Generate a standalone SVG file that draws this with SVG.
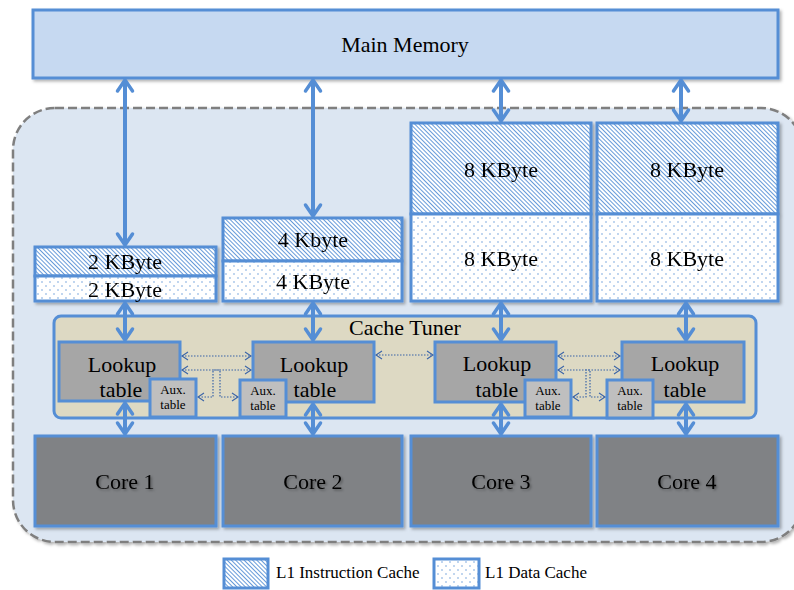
<svg xmlns="http://www.w3.org/2000/svg" width="794" height="590" viewBox="0 0 794 590">
<style>
text{font-family:"Liberation Serif","Times New Roman",serif;fill:#000;text-anchor:middle}
.lbl{font-size:22px}
.aux{font-size:13px}
.leg{font-size:17px;text-anchor:start}
.box{stroke:#558ed5;stroke-width:3}
.ins{fill:url(#hatch)}
.dat{fill:url(#dots)}
.lt{fill:#a6a6a6}
.ax{fill:#bfbfbf}
.core{fill:#808285}
.big{stroke:#558ed5;stroke-width:4;fill:none;marker-start:url(#ah);marker-end:url(#ah)}
.dot{stroke:#3a64a8;stroke-width:1.2;stroke-dasharray:1.5 1.5;fill:none;marker-start:url(#sh2);marker-end:url(#sh2)}
</style>
<defs>
<filter id="sh" x="-10%" y="-10%" width="120%" height="130%">
<feDropShadow dx="2" dy="2" stdDeviation="1.5" flood-color="#000" flood-opacity="0.3"/>
</filter>
<filter id="tsh" x="-10%" y="-20%" width="130%" height="150%">
<feDropShadow dx="1.5" dy="1.5" stdDeviation="1" flood-color="#000" flood-opacity="0.35"/>
</filter>
<pattern id="hatch" patternUnits="userSpaceOnUse" width="10" height="3" patternTransform="rotate(45)">
<rect width="10" height="3" fill="#fff"/>
<line x1="0" y1="1.5" x2="10" y2="1.5" stroke="#558ed5" stroke-width="0.9"/>
</pattern>
<pattern id="dots" patternUnits="userSpaceOnUse" width="8" height="8">
<rect width="8" height="8" fill="#fff"/>
<circle cx="2" cy="2" r="0.7" fill="#558ed5"/>
<circle cx="6" cy="6" r="0.7" fill="#558ed5"/>
</pattern>
<marker id="ah" markerUnits="userSpaceOnUse" viewBox="-4 -10 18 20" refX="11" refY="0" markerWidth="18" markerHeight="20" orient="auto-start-reverse">
<path d="M0,-7.5 L11,0 L0,7.5" fill="none" stroke="#558ed5" stroke-width="3.5" stroke-linejoin="round" stroke-linecap="round"/>
</marker>
<marker id="sh2" markerUnits="userSpaceOnUse" viewBox="-2 -6 10 12" refX="6" refY="0" markerWidth="10" markerHeight="12" orient="auto-start-reverse">
<path d="M0,-4 L6,0 L0,4" fill="none" stroke="#3a64a8" stroke-width="1.1"/>
</marker>
</defs>

<rect x="0" y="0" width="794" height="590" fill="#fff"/>

<g id="main-memory">
<rect x="33" y="10" width="745" height="68" fill="#c6d9f1" class="box" filter="url(#sh)"/>
<text class="lbl" x="405" y="52">Main Memory</text>
</g>

<g id="chip">
<rect x="13" y="108" width="790" height="434" rx="42" fill="#dce6f2" stroke="#7f7f7f" stroke-width="2.5" stroke-dasharray="9 4" filter="url(#sh)"/>
</g>

<g id="cache1" filter="url(#sh)">
<rect x="35" y="247" width="181" height="29" class="box ins"/>
<rect x="35" y="276" width="181" height="25" class="box dat"/>
<text class="lbl" x="125" y="269">2 KByte</text>
<text class="lbl" x="125" y="297">2 KByte</text>
</g>
<g id="cache2" filter="url(#sh)">
<rect x="223" y="218" width="179" height="43" class="box ins"/>
<rect x="223" y="261" width="179" height="40" class="box dat"/>
<text class="lbl" x="313" y="247">4 Kbyte</text>
<text class="lbl" x="313" y="289">4 KByte</text>
</g>
<g id="cache3" filter="url(#sh)">
<rect x="411" y="123" width="180" height="91" class="box ins"/>
<rect x="411" y="214" width="180" height="87" class="box dat"/>
<text class="lbl" x="501" y="177">8 KByte</text>
<text class="lbl" x="501" y="266">8 KByte</text>
</g>
<g id="cache4" filter="url(#sh)">
<rect x="597" y="123" width="181" height="91" class="box ins"/>
<rect x="597" y="214" width="181" height="87" class="box dat"/>
<text class="lbl" x="687" y="177">8 KByte</text>
<text class="lbl" x="687" y="266">8 KByte</text>
</g>

<g id="cache-tuner">
<rect x="54" y="316" width="702" height="102" rx="7" fill="#ddd9c3" class="box"/>
<text class="lbl" x="405" y="335">Cache Tuner</text>
</g>

<g id="lookup1">
<rect x="59" y="342" width="121" height="59" class="box lt"/>
<text class="lbl" x="122" y="372">Lookup</text>
<text class="lbl" x="121" y="397">table</text>
</g>
<g id="aux1">
<rect x="150" y="379" width="46" height="38" class="box ax"/>
<text class="aux" x="173" y="394">Aux.</text>
<text class="aux" x="173" y="409">table</text>
</g>
<g id="lookup2">
<rect x="253" y="342" width="121" height="60" class="box lt"/>
<text class="lbl" x="314" y="372">Lookup</text>
<text class="lbl" x="315" y="397">table</text>
</g>
<g id="aux2">
<rect x="240" y="380" width="46" height="37" class="box ax"/>
<text class="aux" x="263" y="395">Aux.</text>
<text class="aux" x="263" y="410">table</text>
</g>
<g id="lookup3">
<rect x="435" y="342" width="121" height="60" class="box lt"/>
<text class="lbl" x="497" y="371">Lookup</text>
<text class="lbl" x="497" y="397">table</text>
</g>
<g id="aux3">
<rect x="525" y="380" width="46" height="37" class="box ax"/>
<text class="aux" x="548" y="395">Aux.</text>
<text class="aux" x="548" y="410">table</text>
</g>
<g id="lookup4">
<rect x="622" y="342" width="122" height="60" class="box lt"/>
<text class="lbl" x="685" y="371">Lookup</text>
<text class="lbl" x="685" y="397">table</text>
</g>
<g id="aux4">
<rect x="607" y="380" width="46" height="38" class="box ax"/>
<text class="aux" x="630" y="395">Aux.</text>
<text class="aux" x="630" y="410">table</text>
</g>

<g id="core1">
<rect x="35" y="436" width="181" height="90" class="box core" filter="url(#sh)"/>
<text class="lbl" x="125" y="489" filter="url(#tsh)">Core 1</text>
</g>
<g id="core2">
<rect x="223" y="436" width="179" height="90" class="box core" filter="url(#sh)"/>
<text class="lbl" x="313" y="489" filter="url(#tsh)">Core 2</text>
</g>
<g id="core3">
<rect x="411" y="436" width="180" height="90" class="box core" filter="url(#sh)"/>
<text class="lbl" x="501" y="489" filter="url(#tsh)">Core 3</text>
</g>
<g id="core4">
<rect x="597" y="436" width="181" height="90" class="box core" filter="url(#sh)"/>
<text class="lbl" x="687" y="489" filter="url(#tsh)">Core 4</text>
</g>

<g id="connectors">
<line class="big" x1="125" y1="80" x2="125" y2="245"/>
<line class="big" x1="313" y1="80" x2="313" y2="216"/>
<line class="big" x1="501" y1="80" x2="501" y2="121"/>
<line class="big" x1="681" y1="80" x2="681" y2="121"/>
<line class="big" x1="125" y1="303" x2="125" y2="340"/>
<line class="big" x1="313" y1="303" x2="313" y2="340"/>
<line class="big" x1="501" y1="303" x2="501" y2="340"/>
<line class="big" x1="686" y1="303" x2="686" y2="340"/>
<line class="big" x1="125" y1="403" x2="125" y2="434"/>
<line class="big" x1="313" y1="404" x2="313" y2="434"/>
<line class="big" x1="501" y1="404" x2="501" y2="434"/>
<line class="big" x1="686" y1="404" x2="686" y2="434"/>
<line class="dot" x1="182" y1="356" x2="251" y2="356"/>
<polyline class="dot" points="182,370 220,370 220,397 238,397"/>
<polyline class="dot" points="251,370 213,370 213,397 198,397"/>
<line class="dot" x1="376" y1="355" x2="433" y2="355"/>
<line class="dot" x1="558" y1="356" x2="620" y2="356"/>
<polyline class="dot" points="558,370 590,370 590,397 605,397"/>
<polyline class="dot" points="620,370 586,370 586,397 573,397"/>
</g>

<g id="legend">
<rect x="224" y="559" width="44" height="29" class="box ins"/>
<text class="leg" x="276" y="578">L1 Instruction Cache</text>
<rect x="434" y="559" width="45" height="29" class="box dat"/>
<text class="leg" x="485" y="578">L1 Data Cache</text>
</g>
</svg>
